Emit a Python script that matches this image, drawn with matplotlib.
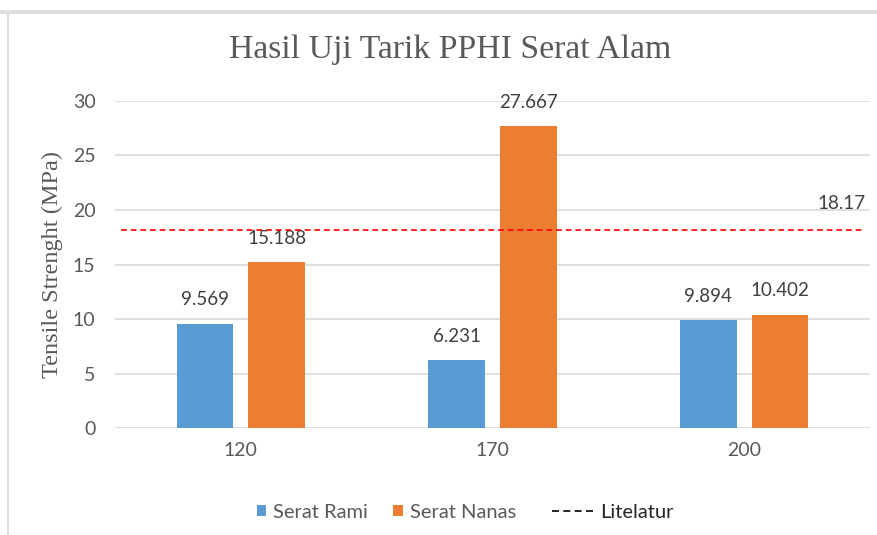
import matplotlib
matplotlib.use("Agg")
import matplotlib.pyplot as plt
from matplotlib.lines import Line2D
from matplotlib.patches import Rectangle, Patch
import numpy as np

categories = ["120", "170", "200"]
serat_rami = [9.569, 6.231, 9.894]
serat_nanas = [15.188, 27.667, 10.402]
literatur = 18.17
yticks = [0, 5, 10, 15, 20, 25, 30]

title = "Hasil Uji Tarik PPHI Serat Alam"
ylabel = "Tensile Strenght (MPa)"
legend_labels = ["Serat Rami", "Serat Nanas", "Litelatur"]

BLUE = "#5B9BD5"
ORANGE = "#ED7D31"
TXT = "#595959"
GRID = "#D9D9D9"
SANS = ["Lato", "DejaVu Sans"]
SERIF = ["Liberation Serif", "DejaVu Serif"]

fig = plt.figure(figsize=(8.78, 5.35), dpi=100)
ax = fig.add_axes([115/878, 1-428.3/535, 755/878, (428.3-100.7)/535])

x = np.arange(len(categories))
w = 0.225
off = 0.142
b1 = ax.bar(x - off, serat_rami, w, color=BLUE, zorder=3)
b2 = ax.bar(x + off, serat_nanas, w, color=ORANGE, zorder=3)

for bars, vals in ((b1, serat_rami), (b2, serat_nanas)):
    for r, v in zip(bars, vals):
        ax.annotate(f"{v:.3f}", (r.get_x() + r.get_width()/2, v),
                    xytext=(0, 17.3), textcoords="offset points",
                    ha="center", va="center", fontsize=13.5, color="#404040",
                    family=SANS)

ax.axhline(literatur, xmin=0.008, xmax=0.99, color="#FF0000", lw=1.2,
           ls=(0, (3.5, 2.3)), zorder=4)
ax.annotate(f"{literatur:.2f}", (1.0, literatur), xycoords=("axes fraction", "data"),
            xytext=(-3, 18.7), textcoords="offset points", ha="right", va="center",
            fontsize=13.5, color="#404040", family=SANS)

ax.set_xlim(-0.5, len(categories) - 0.5)
ax.set_ylim(0, 30)
ax.set_yticks(yticks)
ax.set_xticks(x)
ax.set_xticklabels(categories)
ax.yaxis.grid(True, color=GRID, lw=1.2, zorder=0)
ax.set_axisbelow(True)
for s in ax.spines.values():
    s.set_visible(False)
ax.tick_params(axis="both", length=0, labelsize=14, labelcolor=TXT)
ax.tick_params(axis="y", pad=14)
ax.tick_params(axis="x", pad=10)
for lab in ax.get_xticklabels() + ax.get_yticklabels():
    lab.set_family(SANS)

fig.text(52/878, 1-265/535, ylabel, rotation=90, ha="center", va="center",
         family=SERIF, fontsize=17.5, color=TXT)
fig.text(450/878, 1-50/535, title, ha="center", va="center", family=SERIF,
         fontsize=24.3, color=TXT)

# legend: bar series
patch_handles = [Patch(facecolor=BLUE), Patch(facecolor=ORANGE)]
leg1 = fig.legend(patch_handles, legend_labels[:2], loc="center",
                  bbox_to_anchor=(386.5/878, 1-512/535),
                  ncol=2, frameon=False, handlelength=0.47, handleheight=0.47,
                  columnspacing=1.25, handletextpad=0.35,
                  prop={"family": SANS, "size": 14.5})
for t in leg1.get_texts():
    t.set_color(TXT)

# legend: reference line
line_handle = [Line2D([], [], color="black", ls=(0, (4.2, 2.6)), lw=1.2)]
leg2 = fig.legend(line_handle, legend_labels[2:], loc="center",
                  bbox_to_anchor=(612.5/878, 1-512/535),
                  frameon=False, handlelength=2.1, handletextpad=0.3,
                  prop={"family": SANS, "size": 14.5})
for t in leg2.get_texts():
    t.set_color("#262626")

# chart frame (sheet edges)
fig.add_artist(Rectangle((0, 1-14/535), 1, 4/535, transform=fig.transFigure,
                         color="#DDDDDD", lw=0))
fig.add_artist(Rectangle((7/878, 0), 2/878, 1-14/535, transform=fig.transFigure,
                         color="#DDDDDD", lw=0))

fig.savefig("out.png", dpi=100)
